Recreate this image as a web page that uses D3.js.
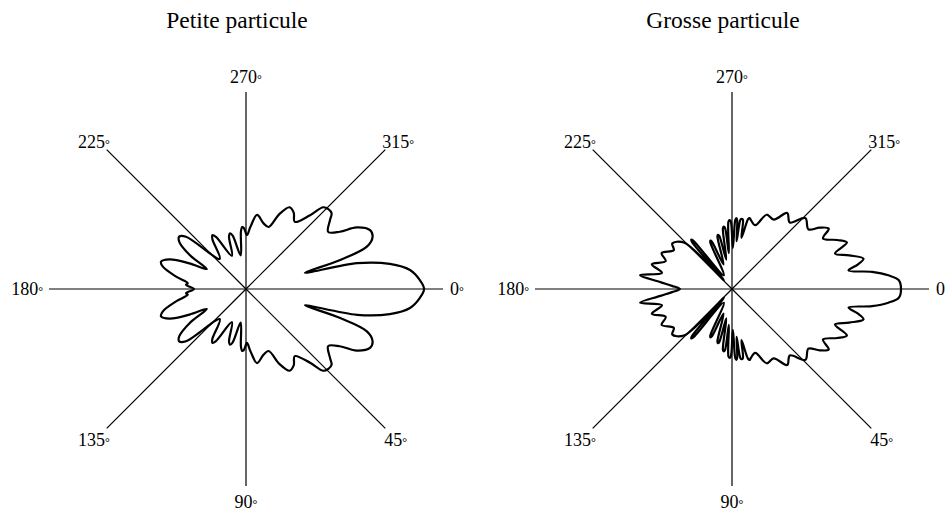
<!DOCTYPE html>
<html>
<head>
<meta charset="utf-8">
<script src="https://cdn.jsdelivr.net/npm/d3@7"></script>
<style>
html,body{margin:0;padding:0;background:#fff;}
svg{display:block;}
text{font-family:"Liberation Serif","Times New Roman",serif;fill:#000;}
</style>
</head>
<body>
<svg id="chart" width="945" height="511"></svg>
<script>
// ---- data (scattering angle in degrees, relative intensity, 100 = axis length) ----
const titles = ["Petite particule", "Grosse particule"];
const tickAngles = [0, 45, 90, 135, 180, 225, 270, 315];
const tickLabels = ["0", "45", "90", "135", "180", "225", "270", "315"];

const smallAngles = [0, 3, 6.6, 9.9, 13.1, 15.4, 17.1, 19.3, 22.4, 25.4, 29.1, 31.4, 34.8, 39.4, 41.5, 44.1, 46.6, 49, 54, 58, 62, 66, 70, 75, 81.5, 86, 89, 92, 93.5, 95, 99, 104, 106, 108, 113, 120, 122, 124, 131, 138.9, 141.9, 144.7, 149, 153, 155.6, 158.8, 162.2, 165, 170, 174.4, 176, 180];
const smallValues = [90.4, 88.3, 83.8, 74.1, 57.9, 31, 49.7, 65, 69.5, 69.7, 64.3, 55.8, 50.8, 55.2, 58, 58.2, 57.1, 49.6, 42.1, 45.7, 47, 41.6, 33.5, 34.5, 38, 31.5, 27.4, 31, 31.5, 29.4, 17.3, 27.9, 29.4, 27.9, 18.3, 30.5, 32.2, 30.5, 20.3, 40.4, 43.1, 41.5, 33, 22.3, 31.5, 41.6, 45.3, 43.7, 36, 29.7, 30.5, 26.4];

const largeAngles = [0, 3, 5, 7, 9, 11, 13, 16, 19, 22, 25, 29, 32, 35, 38, 44, 49, 54, 59, 65, 70, 75, 76, 77, 79.5, 81, 82, 83, 84.5, 85.7, 86.5, 87.3, 88.8, 91, 92, 93, 95, 96.5, 97.5, 98.5, 101, 103.5, 104.5, 105.5, 109, 113, 114, 115, 121, 128.7, 129.5, 130.3, 132.5, 136, 142.7, 146.3, 153, 157.2, 162.8, 167, 171.5, 174.5, 177, 180];
const largeValues = [85.8, 84.8, 79.7, 71.6, 59.9, 65, 68.5, 61.9, 55.3, 62.9, 58.9, 52.8, 57.9, 54.3, 49.2, 51.8, 44.7, 47.7, 41.1, 41.6, 34.5, 36.5, 37.1, 36.5, 26.4, 35.5, 36, 35.5, 24.4, 35, 36, 35, 20.8, 34.3, 35, 34.3, 18.3, 31.2, 32, 31.2, 15.2, 27.7, 28.4, 27.7, 13.2, 26.1, 26.9, 26.1, 8.1, 31.5, 32.5, 31.5, 6.1, 34, 38.1, 35.5, 40.1, 36.5, 42.6, 36.5, 47.2, 36.5, 30.5, 26.4];

// ---- layout ----
const W = 945, H = 511;
const R = 197;
const panels = [
  {title: titles[0], cx: 246, cy: 289, angles: smallAngles, values: smallValues},
  {title: titles[1], cx: 732, cy: 289, angles: largeAngles, values: largeValues}
];

const svg = d3.select("#chart");
const rScale = d3.scaleLinear().domain([0, 100]).range([0, R]);
const toRad = d => d * Math.PI / 180;

const labelPos = {
  0:   {dx: 7,  dy: 6,   anchor: "start"},
  45:  {dx: -1, dy: 18,  anchor: "start"},
  90:  {dx: 0,  dy: 22,  anchor: "middle"},
  135: {dx: 3,  dy: 18,  anchor: "end"},
  180: {dx: -6, dy: 6,   anchor: "end"},
  225: {dx: 3,  dy: -2,  anchor: "end"},
  270: {dx: 0,  dy: -9,  anchor: "middle"},
  315: {dx: -3, dy: -2,  anchor: "start"}
};

panels.forEach(p => {
  const g = svg.append("g").attr("transform", `translate(${p.cx},${p.cy})`);

  // title
  svg.append("text")
    .attr("x", p.cx - 9).attr("y", 28)
    .attr("text-anchor", "middle")
    .attr("font-size", 23.5)
    .text(p.title);

  // axes
  tickAngles.forEach((a, i) => {
    const ex = rScale(100) * Math.cos(toRad(a));
    const ey = rScale(100) * Math.sin(toRad(a));
    g.append("line")
      .attr("x1", 0).attr("y1", 0).attr("x2", ex).attr("y2", ey)
      .attr("stroke", "#000").attr("stroke-width", 1.2);
    const lp = labelPos[a];
    const t = g.append("text")
      .attr("x", ex + lp.dx).attr("y", ey + lp.dy)
      .attr("text-anchor", lp.anchor)
      .attr("font-size", 18);
    t.append("tspan").text(tickLabels[i]);
    t.append("tspan").attr("font-size", 12).text("°");
  });

  // curve: lower half (0..180) then mirrored upper half
  const pts = [];
  for (let i = 0; i < p.angles.length; i++) {
    pts.push([toRad(p.angles[i] + 90), rScale(p.values[i])]);
  }
  for (let i = p.angles.length - 2; i >= 1; i--) {
    pts.push([toRad(360 - p.angles[i] + 90), rScale(p.values[i])]);
  }
  const line = d3.lineRadial()
    .angle(d => d[0]).radius(d => d[1])
    .curve(d3.curveCatmullRomClosed.alpha(0.5));
  g.append("path")
    .attr("d", line(pts))
    .attr("fill", "none")
    .attr("stroke", "#000")
    .attr("stroke-width", 2.2)
    .attr("stroke-linejoin", "round");
});
</script>
</body>
</html>
